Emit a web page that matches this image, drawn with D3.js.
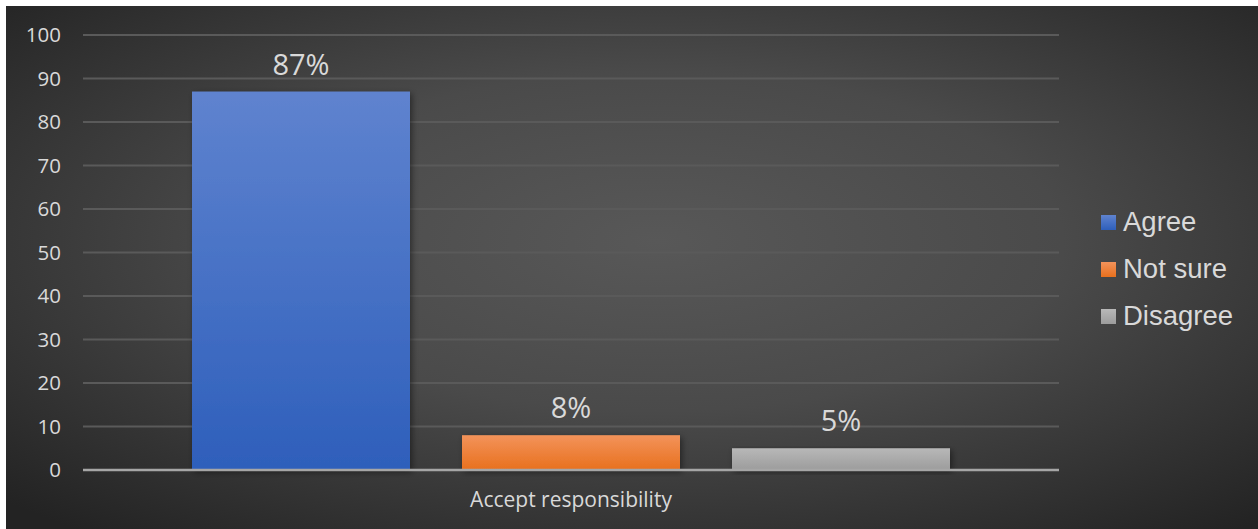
<!DOCTYPE html>
<html><head><meta charset="utf-8">
<script src="https://cdn.jsdelivr.net/npm/d3@7"></script>
<style>html,body{margin:0;padding:0;background:#fff;}svg{display:block;}</style>
</head><body>
<svg id="chart" width="1258" height="529"></svg>
<script>
const categories = ["Accept responsibility"];
const seriesNames = ["Agree", "Not sure", "Disagree"];
const seriesValues = [87, 8, 5];
const valueLabels = ["87%", "8%", "5%"];
const yTicks = [0, 10, 20, 30, 40, 50, 60, 70, 80, 90, 100];

const svg = d3.select("#chart");
const defs = svg.append("defs");
const bg = defs.append("radialGradient").attr("id","bg").attr("cx","0.52").attr("cy","0.45").attr("r","0.72");
bg.append("stop").attr("offset","0").attr("stop-color","#585858");
bg.append("stop").attr("offset","0.45").attr("stop-color","#4a4a4a");
bg.append("stop").attr("offset","1").attr("stop-color","#232323");

const fills = [["#5f83cf","#2e5fbb"],["#f3935b","#e8701d"],["#b8b8b8","#9c9c9c"]];
fills.forEach((f,i)=>{
  const g = defs.append("linearGradient").attr("id","g"+i).attr("x1",0).attr("y1",0).attr("x2",0).attr("y2",1);
  g.append("stop").attr("offset","0").attr("stop-color",f[0]);
  g.append("stop").attr("offset","1").attr("stop-color",f[1]);
});
const sh = defs.append("filter").attr("id","sh").attr("x","-10%").attr("y","-10%").attr("width","130%").attr("height","130%");
sh.append("feDropShadow").attr("dx",2).attr("dy",2).attr("stdDeviation",3).attr("flood-color","#000").attr("flood-opacity",0.45);

svg.append("rect").attr("x",6).attr("y",6).attr("width",1252).attr("height",523).attr("fill","url(#bg)");

const x0 = d3.scaleBand().domain(categories).range([83,1059]).padding(0);
const x1 = d3.scaleBand().domain(seriesNames).range([0, x0.bandwidth()]).paddingInner(0.1926).paddingOuter(0.4037);
const y = d3.scaleLinear().domain([0,100]).range([470,35]);

// gridlines
svg.append("g").selectAll("line").data(yTicks.filter(t=>t>0)).join("line")
  .attr("x1",83).attr("x2",1059).attr("y1",d=>y(d)).attr("y2",d=>y(d))
  .attr("stroke","#5a5a5a").attr("stroke-width",2);

// y axis labels
const yAxis = d3.axisLeft(y).tickValues(yTicks).tickSize(0).tickPadding(22);
const ya = svg.append("g").attr("transform","translate(83,0)").call(yAxis);
ya.select(".domain").remove();
ya.selectAll("text").attr("fill","#d9d9d9").style("font-family","'Open Sans', sans-serif").style("font-size","20.5px");

// bars
const bars = svg.append("g");
categories.forEach(c=>{
  seriesNames.forEach((s,i)=>{
    const bx = x0(c)+x1(s);
    bars.append("rect").attr("x",bx).attr("y",y(seriesValues[i])).attr("width",x1.bandwidth())
      .attr("height",y(0)-y(seriesValues[i])).attr("fill","url(#g"+i+")").attr("filter","url(#sh)");
    bars.append("text").attr("x",bx+x1.bandwidth()/2).attr("y",y(seriesValues[i])-17)
      .attr("text-anchor","middle").attr("fill","#d9d9d9")
      .style("font-family","'Open Sans', sans-serif").style("font-size","29px").text(valueLabels[i]);
  });
});

// axis line
svg.append("line").attr("x1",83).attr("x2",1059).attr("y1",y(0)).attr("y2",y(0))
  .attr("stroke","#a6a6a6").attr("stroke-width",2.5);

// category label
const xAxis = d3.axisBottom(x0).tickSize(0).tickPadding(22);
const xa = svg.append("g").attr("transform","translate(0,"+y(0)+")").call(xAxis);
xa.select(".domain").remove();
xa.selectAll("text").attr("fill","#d9d9d9").style("font-family","'Open Sans', sans-serif").style("font-size","21px");

// legend
const lg = svg.append("g").attr("transform","translate(1101,215)");
seriesNames.forEach((s,i)=>{
  const row = lg.append("g").attr("transform","translate(0,"+(i*47)+")");
  row.append("rect").attr("width",15).attr("height",15).attr("fill","url(#g"+i+")");
  row.append("text").attr("x",22).attr("y",16).attr("fill","#d9d9d9")
    .style("font-family","'Liberation Sans', Arial, sans-serif").style("font-size","27.5px").text(s);
});
</script>
</body></html>
